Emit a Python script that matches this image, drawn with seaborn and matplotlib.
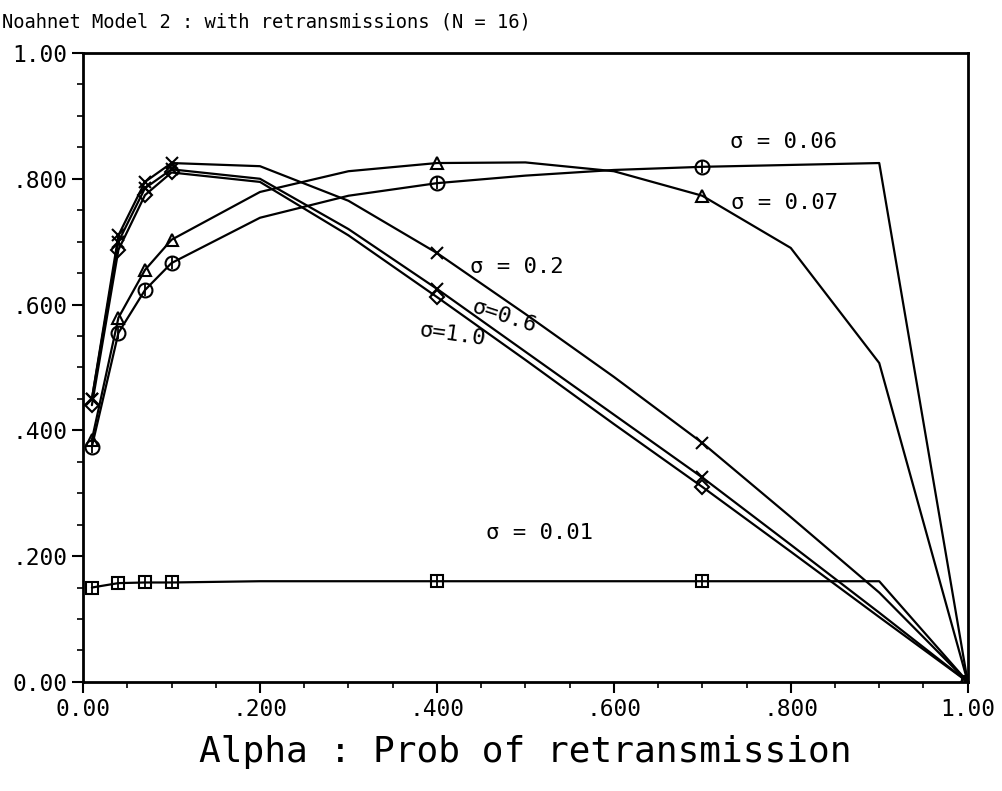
import numpy as np
import pandas as pd
import matplotlib
matplotlib.use("Agg")
import matplotlib.pyplot as plt
from matplotlib.ticker import MultipleLocator, FixedFormatter, FixedLocator
import seaborn as sns

# alpha values where the model was evaluated
alpha = [0.01, 0.04, 0.07, 0.10, 0.20, 0.30, 0.40, 0.50, 0.60, 0.70, 0.80, 0.90, 1.00]
# markers were only plotted at these points
marked = [0, 1, 2, 3, 6, 9, 12]

thr_s001 = [0.150, 0.157, 0.158, 0.158, 0.160, 0.160, 0.160, 0.160, 0.160, 0.160, 0.160, 0.160, 0.0]
thr_s006 = [0.374, 0.555, 0.623, 0.666, 0.738, 0.773, 0.793, 0.805, 0.814, 0.819, 0.822, 0.825, 0.0]
thr_s007 = [0.385, 0.579, 0.655, 0.703, 0.779, 0.812, 0.825, 0.826, 0.812, 0.773, 0.690, 0.507, 0.0]
thr_s02 = [0.450, 0.710, 0.795, 0.825, 0.820, 0.765, 0.682, 0.585, 0.485, 0.380, 0.262, 0.142, 0.0]
thr_s06 = [0.450, 0.700, 0.785, 0.815, 0.800, 0.720, 0.625, 0.525, 0.425, 0.325, 0.218, 0.110, 0.0]
thr_s10 = [0.440, 0.687, 0.774, 0.810, 0.795, 0.710, 0.612, 0.512, 0.410, 0.310, 0.207, 0.103, 0.0]

x_ticks = [0.0, 0.2, 0.4, 0.6, 0.8, 1.0]
tick_labels = ["0.00", ".200", ".400", ".600", ".800", "1.00"]

series = [
    (thr_s001, "s", 9),
    (thr_s006, "o", 10),
    (thr_s007, "^", 9),
    (thr_s02, "x", 9),
    (thr_s06, "x", 9),
    (thr_s10, "D", 7),
]

labels = [
    ("\u03c3 = 0.06", 0.731, 0.858, 0),
    ("\u03c3 = 0.07", 0.733, 0.762, 0),
    ("\u03c3 = 0.2", 0.437, 0.660, 0),
    ("\u03c3=0.6", 0.437, 0.580, -18),
    ("\u03c3=1.0", 0.378, 0.552, -8),
    ("\u03c3 = 0.01", 0.456, 0.236, 0),
]

sns.set_style("ticks")
plt.rcParams["font.family"] = ["DejaVu Sans Mono", "DejaVu Sans"]
plt.rcParams["text.color"] = "black"
plt.rcParams["axes.labelcolor"] = "black"
plt.rcParams["xtick.color"] = "black"
plt.rcParams["ytick.color"] = "black"

fig = plt.figure(figsize=(10.03, 7.91), dpi=100)
ax = fig.add_axes([0.0828, 0.138, 0.882, 0.795])

for vals, mk, ms in series:
    df = pd.DataFrame({"alpha": alpha, "thr": vals})
    sns.lineplot(data=df, x="alpha", y="thr", ax=ax, color="black", lw=1.6,
                 marker=mk, markersize=ms, markevery=marked,
                 markerfacecolor="none", markeredgecolor="black",
                 markeredgewidth=1.5, estimator=None, sort=False)
    if mk in ("s", "o"):
        # little vertical bar inside square / circle markers
        sns.lineplot(data=df.iloc[marked], x="alpha", y="thr", ax=ax, color="black",
                     lw=0, marker="|", markersize=ms * 0.9, markeredgecolor="black",
                     markeredgewidth=1.3, estimator=None, sort=False)

for txt, lx, ly, rot in labels:
    ax.text(lx, ly, txt, fontsize=16, rotation=rot, ha="left", va="center",
            color="black")

ax.set_xlim(0, 1)
ax.set_ylim(0, 1)
ax.xaxis.set_major_locator(FixedLocator(x_ticks))
ax.xaxis.set_major_formatter(FixedFormatter(tick_labels))
ax.yaxis.set_major_locator(FixedLocator(x_ticks))
ax.yaxis.set_major_formatter(FixedFormatter(tick_labels))
ax.xaxis.set_minor_locator(MultipleLocator(0.05))
ax.yaxis.set_minor_locator(MultipleLocator(0.05))
ax.tick_params(which="major", direction="out", length=8, width=1.5, labelsize=16.5)
ax.tick_params(which="minor", direction="out", length=4, width=1.2)
for sp in ax.spines.values():
    sp.set_linewidth(2)
    sp.set_color("black")

ax.set_xlabel("Alpha : Prob of retransmission", fontsize=26, labelpad=10)
ax.set_ylabel("")
fig.text(0.002, 0.972, "Noahnet Model 2 : with retransmissions (N = 16)",
         fontsize=13.5, ha="left", va="center")

fig.savefig("out.png", dpi=100, facecolor="white")
